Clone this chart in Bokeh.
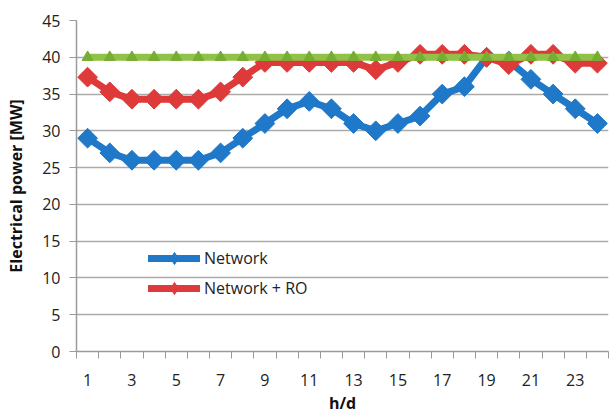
import math
from bokeh.plotting import figure
from bokeh.models import FixedTicker, Legend, LegendItem, Range1d
from bokeh.embed import file_html
from bokeh.resources import INLINE

# Hourly electrical power demand over one day
hours = list(range(1, 25))
network = [29, 27, 26, 26, 26, 26, 27, 29, 31, 33, 34, 33,
           31, 30, 31, 32, 35, 36, 40, 39.5, 37, 35, 33, 31]
network_ro = [37.3, 35.3, 34.3, 34.3, 34.3, 34.3, 35.3, 37.3, 39.3, 39.3, 39.3, 39.3,
              39.3, 38.3, 39.3, 40.4, 40.4, 40.4, 40.0, 39.0, 40.4, 40.4, 39.2, 39.2]
capacity = [40] * 24
y_ticks = [0, 5, 10, 15, 20, 25, 30, 35, 40, 45]
x_labels = [1, 3, 5, 7, 9, 11, 13, 15, 17, 19, 21, 23]

BLUE = "#1f78c8"
RED = "#de3a3a"
GREEN = "#8fc247"
FONT = "Open Sans"
AXIS_GREY = "#9a9a9a"

p = figure(width=612, height=416, output_backend="svg", toolbar_location=None,
           x_range=Range1d(0.5, 24.5), y_range=Range1d(0, 45),
           min_border_left=76, min_border_right=4, min_border_top=20, min_border_bottom=64)
p.outline_line_color = None
p.background_fill_color = "white"
p.border_fill_color = "white"

# y axis
p.yaxis.ticker = FixedTicker(ticks=y_ticks)
p.yaxis.axis_label = "Electrical power [MW]"
p.yaxis.axis_label_text_font = FONT
p.yaxis.axis_label_text_font_style = "bold"
p.yaxis.axis_label_text_font_size = "16px"
p.yaxis.axis_label_text_color = "#111111"
p.yaxis.axis_label_standoff = 12
p.yaxis.major_label_text_font = FONT
p.yaxis.major_label_text_font_size = "16px"
p.yaxis.major_label_text_color = "#222222"
p.yaxis.major_label_standoff = 9
p.yaxis.axis_line_color = AXIS_GREY
p.yaxis.axis_line_width = 1.5
p.yaxis.major_tick_line_color = AXIS_GREY
p.yaxis.major_tick_in = 0
p.yaxis.major_tick_out = 7
p.yaxis.minor_tick_line_color = None

# x axis: hour labels centered in each band, ticks at the band edges
p.xaxis.ticker = FixedTicker(ticks=x_labels, minor_ticks=[h + 0.5 for h in range(0, 25)])
p.xaxis.axis_label = "h/d"
p.xaxis.axis_label_text_font = FONT
p.xaxis.axis_label_text_font_style = "bold"
p.xaxis.axis_label_text_font_size = "16px"
p.xaxis.axis_label_text_color = "#111111"
p.xaxis.axis_label_standoff = 3
p.xaxis.major_label_text_font = FONT
p.xaxis.major_label_text_font_size = "16px"
p.xaxis.major_label_text_color = "#222222"
p.xaxis.major_label_standoff = 15
p.xaxis.axis_line_color = AXIS_GREY
p.xaxis.axis_line_width = 1.5
p.xaxis.major_tick_line_color = None
p.xaxis.minor_tick_line_color = AXIS_GREY
p.xaxis.minor_tick_in = 0
p.xaxis.minor_tick_out = 7

p.xgrid.grid_line_color = None
p.ygrid.grid_line_color = "#aaaaaa"
p.ygrid.grid_line_width = 1.5

rot = math.pi / 4

# Network
l1 = p.line(hours, network, line_color=BLUE, line_width=7, line_cap="round", line_join="round")
p.scatter(hours, network, marker="square", angle=rot, size=14, fill_color=BLUE, line_color=BLUE)
# Network + RO
l2 = p.line(hours, network_ro, line_color=RED, line_width=7, line_cap="round", line_join="round")
p.scatter(hours, network_ro, marker="square", angle=rot, size=14, fill_color=RED, line_color=RED)
# Capacity limit
p.line(hours, capacity, line_color=GREEN, line_width=7)
p.scatter(hours, capacity, marker="triangle", size=11, fill_color="#77ad33", line_color="#77ad33")

# legend swatches: a narrow diamond over the line (a NaN point, so nothing shows on the plot)
nan = float("nan")
k1 = p.scatter([nan], [nan], marker="diamond", size=15, fill_color=BLUE, line_color=BLUE)
k2 = p.scatter([nan], [nan], marker="diamond", size=15, fill_color=RED, line_color=RED)

legend = Legend(items=[LegendItem(label="Network", renderers=[l1, k1]),
                       LegendItem(label="Network + RO", renderers=[l2, k2])],
                location=(72, 48), orientation="vertical",
                glyph_width=52, glyph_height=30, label_height=30, spacing=0, padding=0, margin=0,
                label_text_font=FONT, label_text_font_size="16px", label_text_color="#222222",
                label_standoff=4, border_line_color=None, background_fill_alpha=0)
p.add_layout(legend, "center")

open("out.html", "w").write(file_html(p, INLINE))
